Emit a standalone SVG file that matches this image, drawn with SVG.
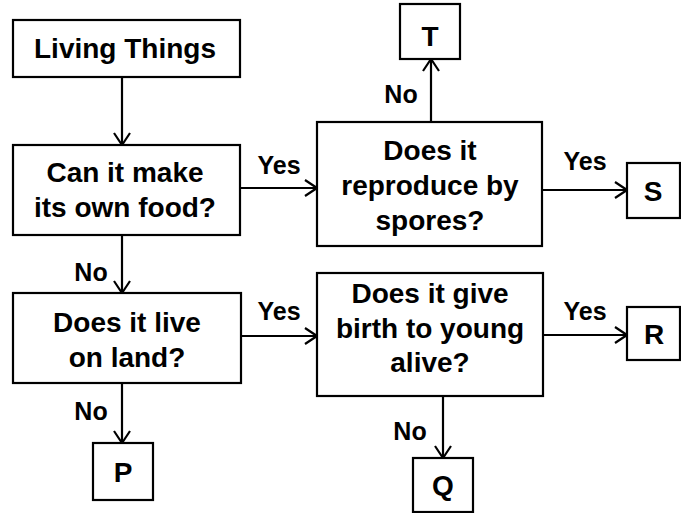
<svg xmlns="http://www.w3.org/2000/svg" width="681" height="513" viewBox="0 0 681 513">
<style>
.box{fill:#fff;stroke:#000;stroke-width:2.2}
.t{font-family:"Liberation Sans",Arial,sans-serif;font-weight:bold;font-size:28px;text-anchor:middle;fill:#000}
.l{font-family:"Liberation Sans",Arial,sans-serif;font-weight:bold;font-size:25px;text-anchor:middle;fill:#000}
.c{stroke:#000;stroke-width:2.2;fill:none;marker-end:url(#ah)}
</style>
<defs>
<marker id="ah" viewBox="0 0 14 18" markerWidth="14" markerHeight="18" refX="13" refY="9" orient="auto" markerUnits="userSpaceOnUse">
<path d="M1,1 L13,9 L1,17" fill="none" stroke="#000" stroke-width="2.2"/>
</marker>
</defs>
<rect width="681" height="513" fill="#fff"/>
<g id="connectors">
<line class="c" x1="122" y1="77" x2="122" y2="145"/>
<line class="c" x1="239" y1="188" x2="317" y2="188"/>
<line class="c" x1="542" y1="190" x2="627" y2="190"/>
<line class="c" x1="431" y1="122" x2="431" y2="59"/>
<line class="c" x1="122" y1="235" x2="122" y2="293"/>
<line class="c" x1="241" y1="336" x2="317" y2="336"/>
<line class="c" x1="543" y1="335" x2="627" y2="335"/>
<line class="c" x1="122" y1="383" x2="122" y2="443"/>
<line class="c" x1="443" y1="396" x2="443" y2="458"/>
<text class="l" x="279" y="174">Yes</text>
<text class="l" x="401" y="103">No</text>
<text class="l" x="585" y="170">Yes</text>
<text class="l" x="91" y="281">No</text>
<text class="l" x="279" y="320">Yes</text>
<text class="l" x="585" y="320">Yes</text>
<text class="l" x="91" y="420">No</text>
<text class="l" x="410" y="440">No</text>
</g>
<g id="living">
<rect class="box" x="13" y="20" width="227" height="57"/>
<text class="t" x="125" y="58">Living Things</text>
</g>
<g id="food">
<rect class="box" x="13" y="145" width="227" height="90"/>
<text class="t" x="125" y="182">Can it make</text>
<text class="t" x="125" y="217">its own food?</text>
</g>
<g id="land">
<rect class="box" x="13" y="293" width="228" height="90"/>
<text class="t" x="127" y="332">Does it live</text>
<text class="t" x="127" y="367">on land?</text>
</g>
<g id="spores">
<rect class="box" x="317" y="122" width="225" height="124"/>
<text class="t" x="430" y="160">Does it</text>
<text class="t" x="430" y="195">reproduce by</text>
<text class="t" x="430" y="230">spores?</text>
</g>
<g id="birth">
<rect class="box" x="317" y="273" width="226" height="123"/>
<text class="t" x="430" y="303">Does it give</text>
<text class="t" x="430" y="338">birth to young</text>
<text class="t" x="430" y="372">alive?</text>
</g>
<g id="T">
<rect class="box" x="400" y="4" width="60" height="55"/>
<text class="t" x="430" y="46">T</text>
</g>
<g id="S">
<rect class="box" x="627" y="163" width="53" height="55"/>
<text class="t" x="653" y="201">S</text>
</g>
<g id="R">
<rect class="box" x="627" y="307" width="53" height="53"/>
<text class="t" x="654" y="344">R</text>
</g>
<g id="P">
<rect class="box" x="93" y="443" width="60" height="57"/>
<text class="t" x="123" y="482">P</text>
</g>
<g id="Q">
<rect class="box" x="413" y="458" width="60" height="54"/>
<text class="t" x="443" y="495">Q</text>
</g>
</svg>
